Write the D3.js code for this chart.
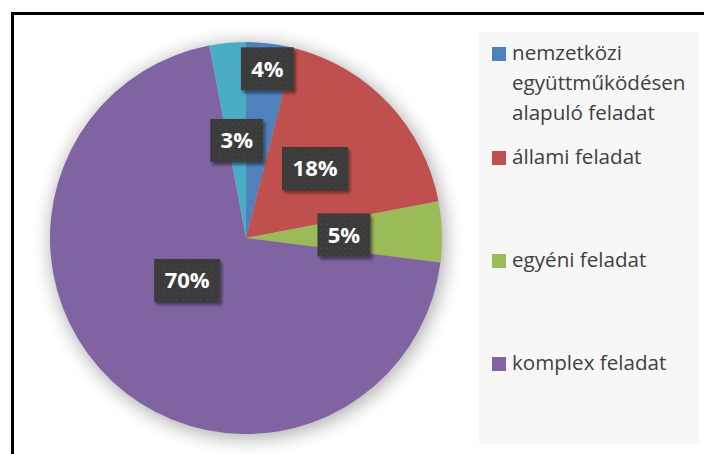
<!DOCTYPE html>
<html>
<head>
<meta charset="utf-8">
<script src="https://cdn.jsdelivr.net/npm/d3@7"></script>
<style>
  html, body { margin: 0; padding: 0; background: #fff; }
  svg { display: block; }
</style>
</head>
<body>
<svg id="chart" width="704" height="454"></svg>
<script>
// Slice data, clockwise from 12 o'clock
const values = [4, 18, 5, 70, 3];
const sliceColors = ["#4f81bd", "#c0504d", "#9bbb59", "#8064a2", "#4bacc6"];
// Legend entries (the last slice has no legend entry)
const legendLabels = [
  ["nemzetközi", "együttműködésen", "alapuló feladat"],
  ["állami feladat"],
  ["egyéni feladat"],
  ["komplex feladat"]
];

const W = 704, H = 454;
const cx = 246, cy = 238, R = 196;

const svg = d3.select("#chart");
const defs = svg.append("defs");

// soft halo under the pie
const halo = defs.append("filter").attr("id", "halo")
  .attr("x", "-30%").attr("y", "-30%").attr("width", "160%").attr("height", "160%");
halo.append("feGaussianBlur").attr("stdDeviation", 9);

// drop shadow under the value boxes
const boxShadow = defs.append("filter").attr("id", "boxShadow")
  .attr("x", "-30%").attr("y", "-30%").attr("width", "160%").attr("height", "170%");
boxShadow.append("feGaussianBlur").attr("in", "SourceAlpha").attr("stdDeviation", 1.8).attr("result", "b");
boxShadow.append("feOffset").attr("in", "b").attr("dx", 2).attr("dy", 3).attr("result", "o");
boxShadow.append("feComponentTransfer").attr("in", "o").attr("result", "s")
  .append("feFuncA").attr("type", "linear").attr("slope", 0.45);
const merge = boxShadow.append("feMerge");
merge.append("feMergeNode").attr("in", "s");
merge.append("feMergeNode").attr("in", "SourceGraphic");

// dotted texture for the value boxes
const pat = defs.append("pattern").attr("id", "dots")
  .attr("patternUnits", "userSpaceOnUse").attr("width", 6).attr("height", 6);
pat.append("rect").attr("width", 6).attr("height", 6).attr("fill", "#3a3a3a");
pat.append("circle").attr("cx", 1.5).attr("cy", 1.5).attr("r", 0.9).attr("fill", "#4b4b4b");
pat.append("circle").attr("cx", 4.5).attr("cy", 4.5).attr("r", 0.7).attr("fill", "#444");

// background and frame
svg.append("rect").attr("width", W).attr("height", H).attr("fill", "#fff");
svg.append("rect")
  .attr("x", 12.5).attr("y", 13.5).attr("width", 900).attr("height", 900)
  .attr("fill", "none").attr("stroke", "#000").attr("stroke-width", 3);

// legend panel
svg.append("rect")
  .attr("x", 479).attr("y", 32).attr("width", 220).attr("height", 412)
  .attr("fill", "#f7f7f7");

// pie
const pie = d3.pie().sort(null).value(d => d);
const arcs = pie(values);
const arc = d3.arc().innerRadius(0).outerRadius(R);

const g = svg.append("g").attr("transform", `translate(${cx},${cy})`);
g.append("circle").attr("cx", 2).attr("cy", 3).attr("r", R + 2)
  .attr("fill", "#000").attr("opacity", 0.3).attr("filter", "url(#halo)");
g.selectAll("path.slice").data(arcs).enter().append("path")
  .attr("class", "slice")
  .attr("d", arc)
  .attr("fill", (d, i) => sliceColors[i]);

// value-label placement: radius as fraction of R, and angular shift (deg)
const labelPlace = [
  { r: 0.87, shift: 0 },
  { r: 0.50, shift: -2 },
  { r: 0.50, shift: 0 },
  { r: 0.37, shift: 11 },
  { r: 0.50, shift: 0 }
];

const fmt = v => v + "%";
arcs.forEach((d, i) => {
  const a = (d.startAngle + d.endAngle) / 2 + labelPlace[i].shift * Math.PI / 180;
  const rr = labelPlace[i].r * R;
  const x = rr * Math.sin(a), y = -rr * Math.cos(a);
  const lg = g.append("g").attr("transform", `translate(${x},${y})`);
  const rect = lg.append("rect").attr("fill", "url(#dots)").attr("filter", "url(#boxShadow)");
  const t = lg.append("text")
    .attr("text-anchor", "middle")
    .attr("dy", "0.36em")
    .attr("fill", "#fff")
    .attr("font-family", "'Open Sans', sans-serif")
    .attr("font-weight", 700)
    .attr("font-size", 22)
    .text(fmt(values[i]));
  const tw = t.node().getComputedTextLength();
  const bw = Math.round(tw + 21), bh = 43;
  rect.attr("x", -bw / 2).attr("y", -bh / 2).attr("width", bw).attr("height", bh);
});

// legend
const entryBaselines = [60, 164, 267, 370];
const lg = svg.append("g");
legendLabels.forEach((lines, i) => {
  const by = entryBaselines[i];
  lg.append("rect")
    .attr("x", 492).attr("y", by - 13).attr("width", 14).attr("height", 14)
    .attr("fill", sliceColors[i]);
  const t = lg.append("text")
    .attr("x", 512).attr("y", by)
    .attr("fill", "#404040")
    .attr("font-family", "'Open Sans', sans-serif")
    .attr("font-size", 20.6);
  lines.forEach((s, j) => {
    t.append("tspan").attr("x", 512).attr("y", by + j * 30).text(s);
  });
});
</script>
</body>
</html>
